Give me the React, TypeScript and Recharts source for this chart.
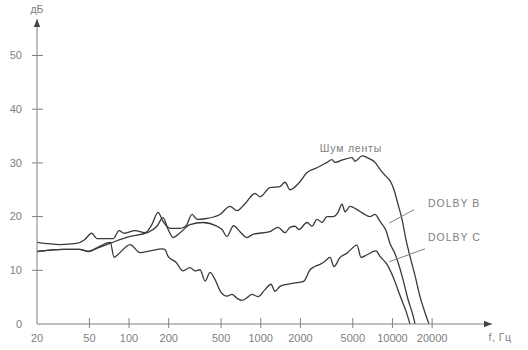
import { LineChart, Line, XAxis, YAxis, ReferenceLine, ReferenceDot } from "recharts";

// ─── Data ────────────────────────────────────────────────────────────────────

const xTicks = [20, 50, 100, 200, 500, 1000, 2000, 5000, 10000, 20000];
const yTicks = [0, 10, 20, 30, 40, 50];

// Шум ленты (tape noise)
const tapeFreq = [
  20, 30, 40, 46, 52, 57, 76, 84, 92, 111, 132, 149, 166, 181, 205, 244, 271,
  301, 328, 377, 490, 584, 660, 759, 904, 987, 1175, 1400, 1528, 1667, 1986,
  2244, 2673, 3184, 3476, 3664, 4212, 4930, 5196, 5874, 6409, 7372, 8044, 8933,
  9580, 10270, 11020, 11820, 12670, 13590, 14840, 16190, 17670, 18950,
];
const tapeDb = [
  15.2, 14.8, 15.0, 15.7, 16.9, 15.9, 15.9, 17.4, 16.9, 17.4, 17.0, 18.5, 20.8,
  19.1, 17.8, 17.8, 18.3, 20.4, 19.5, 19.6, 20.4, 21.9, 21.1, 22.4, 24.3, 23.7,
  25.4, 25.6, 26.4, 25.0, 26.5, 28.2, 29.1, 30.1, 30.6, 30.1, 30.6, 31.0, 30.3,
  31.3, 31.0, 30.1, 28.8, 27.5, 26.7, 25.0, 22.3, 19.5, 15.7, 12.6, 9.0, 5.1,
  2.1, 0,
];

// DOLBY B
const dolbyBFreq = [
  20, 31.5, 42, 49, 57, 75, 102, 137, 163, 181, 198, 216, 244, 290, 364, 465,
  508, 554, 621, 696, 786, 873, 1175, 1352, 1528, 1667, 1820, 1952, 2244,
  2450, 2673, 2918, 3184, 3537, 3862, 4140, 4365, 4762, 5382, 5977, 6756, 7372,
  8044, 8933, 9580, 10450, 11220, 12020, 13120, 14320, 14840,
];
const dolbyBDb = [
  13.5, 13.9, 13.9, 13.5, 14.1, 15.2, 16.3, 17.0, 18.2, 19.8, 17.6, 16.1, 17.0,
  18.5, 18.9, 18.2, 17.6, 16.3, 18.3, 17.2, 16.1, 16.7, 17.2, 18.0, 17.0,
  18.0, 18.2, 17.6, 18.9, 18.2, 19.5, 18.9, 20.0, 20.0, 20.8, 22.3, 20.9, 21.9,
  21.3, 20.6, 20.0, 20.4, 19.1, 17.4, 15.0, 13.1, 10.9, 8.3, 4.6, 1.6, 0,
];

// DOLBY C
const dolbyCFreq = [
  20, 31.5, 42, 49, 57, 72, 77, 82, 102, 121, 144, 178, 187, 198, 227, 257, 290,
  317, 346, 378, 412, 449, 499, 554, 605, 660, 721, 786, 858, 953, 1077, 1196,
  1283, 1400, 1582, 1884, 2130, 2366, 2582, 2818, 3076, 3357, 3598, 4000, 4518,
  5382, 5768, 6409, 7500, 8044, 9092, 10100, 11410, 12670, 13590,
];
const dolbyCDb = [
  13.5, 13.9, 13.9, 13.5, 14.2, 15.2, 12.4, 12.9, 14.8, 13.3, 13.6, 14.0, 13.9,
  12.6, 11.5, 9.9, 10.5, 9.9, 10.1, 8.0, 9.6, 8.3, 5.9, 5.2, 5.5, 4.8, 4.4, 4.9,
  5.5, 5.1, 6.4, 7.4, 6.1, 7.0, 7.4, 7.7, 8.0, 10.1, 10.7, 11.1, 11.7, 12.4, 10.7,
  12.4, 13.2, 14.7, 12.4, 12.9, 13.6, 12.6, 11.1, 8.8, 5.3, 2.4, 0,
];

const zip = (f: number[], d: number[]) => f.map((v, i) => ({ f: v, db: d[i] }));

const tapeData = zip(tapeFreq, tapeDb);
const dolbyBData = zip(dolbyBFreq, dolbyBDb);
const dolbyCData = zip(dolbyCFreq, dolbyCDb);

// ─── Style ───────────────────────────────────────────────────────────────────

const FONT = "'Liberation Sans', Arial, sans-serif";
const INK = "#3a3a3a";
const GREY = "#808080";

// ticks cross the axis line, like the plotter drawing
function YTick({ x, y, payload }: any) {
  return (
    <g>
      {payload.value !== 0 && (
        <line x1={x - 5} x2={x + 6} y1={y} y2={y} stroke={GREY} />
      )}
      <text
        x={x - 15}
        y={y}
        dy="0.35em"
        textAnchor="end"
        fill={GREY}
        fontFamily={FONT}
        fontSize={11}
      >
        {payload.value}
      </text>
    </g>
  );
}

function XTick({ x, y, payload }: any) {
  return (
    <g>
      {payload.value !== 20 && (
        <line x1={x} x2={x} y1={y - 6} y2={y + 4} stroke={GREY} />
      )}
      <text
        x={x}
        y={y + 14}
        dy="0.35em"
        textAnchor="middle"
        fill={GREY}
        fontFamily={FONT}
        fontSize={11}
      >
        {payload.value}
      </text>
    </g>
  );
}

const note =
  (label: string, anchor: "start" | "middle" = "start", spacing = 1) =>
  (p: any) => (
    <text
      x={p.cx}
      y={p.cy}
      dy="0.35em"
      textAnchor={anchor}
      fill={GREY}
      fontFamily={FONT}
      fontSize={10.5}
      letterSpacing={spacing}
    >
      {label}
    </text>
  );

export default function App() {
  return (
    <div style={{ position: "absolute", left: 0, top: 0, background: "#fff" }}>
      <LineChart
        width={528}
        height={350}
        margin={{ top: 19, right: 36, left: 0, bottom: 1 }}
      >
        <defs>
          <marker
            id="arrow"
            viewBox="0 0 10 10"
            refX="10"
            refY="5"
            markerWidth="8"
            markerHeight="8"
            markerUnits="userSpaceOnUse"
            orient="auto-start-reverse"
          >
            <path d="M0,1 L10,5 L0,9 z" fill="#444" />
          </marker>
        </defs>

        <XAxis
          type="number"
          dataKey="f"
          scale="log"
          domain={[20, 57000]}
          allowDataOverflow
          ticks={xTicks}
          interval={0}
          height={25}
          tickSize={0}
          tickMargin={0}
          tickLine={false}
          axisLine={{ stroke: GREY, markerEnd: "url(#arrow)" }}
          tick={<XTick />}
        />
        <YAxis
          type="number"
          domain={[0, 56.8]}
          allowDataOverflow
          ticks={yTicks}
          interval={0}
          width={37}
          tickSize={0}
          tickMargin={0}
          tickLine={false}
          axisLine={{ stroke: GREY, markerStart: "url(#arrow)" }}
          tick={<YTick />}
        />

        <Line
          data={tapeData}
          dataKey="db"
          type="monotone"
          stroke={INK}
          strokeWidth={1.3}
          dot={false}
          isAnimationActive={false}
        />
        <Line
          data={dolbyBData}
          dataKey="db"
          type="monotone"
          stroke={INK}
          strokeWidth={1.3}
          dot={false}
          isAnimationActive={false}
        />
        <Line
          data={dolbyCData}
          dataKey="db"
          type="monotone"
          stroke={INK}
          strokeWidth={1.3}
          dot={false}
          isAnimationActive={false}
        />

        {/* leader lines to the labels */}
        <ReferenceLine
          segment={[
            { x: 9460, y: 18.8 },
            { x: 14580, y: 21.3 },
          ]}
          stroke={GREY}
        />
        <ReferenceLine
          segment={[
            { x: 9460, y: 11.6 },
            { x: 17660, y: 14.0 },
          ]}
          stroke={GREY}
        />

        <ReferenceDot x={4840} y={32.7} ifOverflow="visible" shape={note("Шум  ленты", "middle", 0.8)} />
        <ReferenceDot x={18620} y={22.4} ifOverflow="visible" shape={note("DOLBY  B", "start", 1)} />
        <ReferenceDot x={18620} y={16.1} ifOverflow="visible" shape={note("DOLBY  C", "start", 1)} />
        <ReferenceDot x={20} y={58.6} ifOverflow="visible" shape={note("дБ", "middle", 0)} />
        <ReferenceDot x={65560} y={-2.5} ifOverflow="visible" shape={note("f,  Гц", "middle", 0.5)} />
      </LineChart>
    </div>
  );
}
